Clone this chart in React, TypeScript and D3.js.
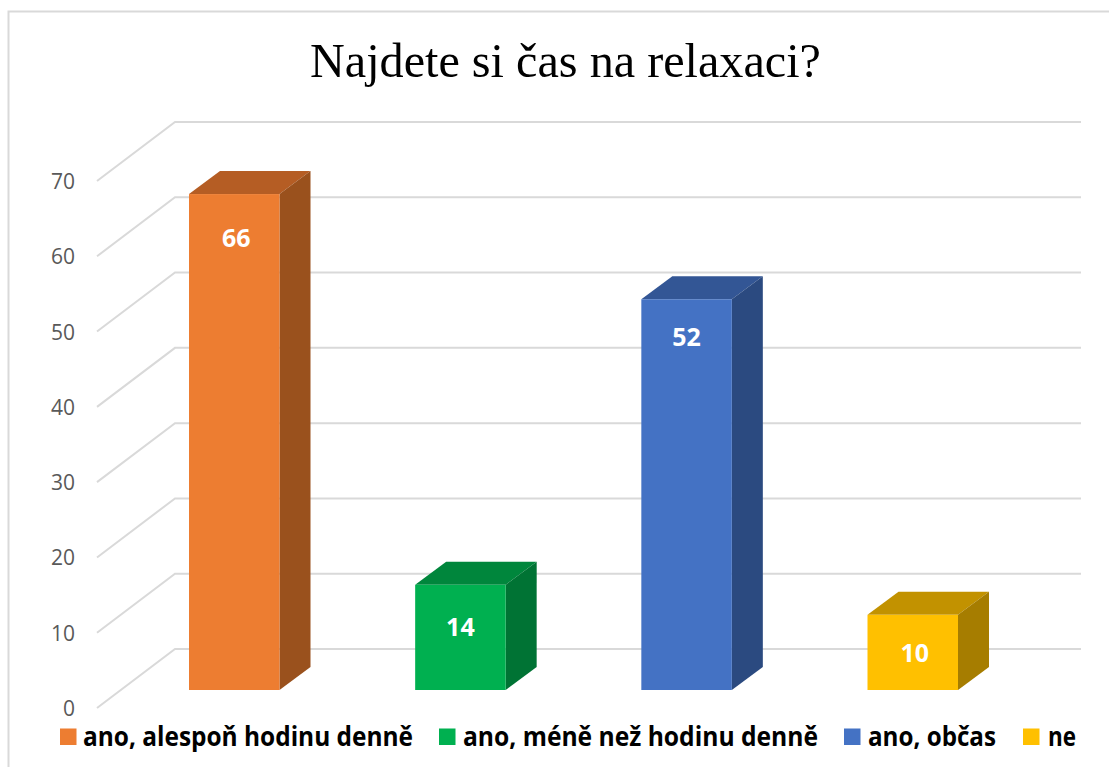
import React from "react";
import * as d3 from "d3";

const title = "Najdete si čas na relaxaci?";
const categories = ["ano, alespoň hodinu denně", "ano, méně než hodinu denně", "ano, občas", "ne"];
const values = [66, 14, 52, 10];
const frontColors = ["#ed7d31", "#00b050", "#4472c4", "#ffc000"];
const topColors = ["#b55d24", "#00863c", "#335695", "#c29200"];
const sideColors = ["#9a511d", "#007334", "#2b4a80", "#a67d00"];
const yTicks = [0, 10, 20, 30, 40, 50, 60, 70];
const legendSwatchX = [60, 439, 844, 1023];
const legendTextX = [83, 463, 868, 1048];
const legendWidths = [330, 355, 128, 28];
const labelOffsetX = [2, 0, 0, 2];
const labelOffsetY = [44, 42, 38, 38];

const W = 1109, H = 767;
const barWidth = 90.5, depthX = 31, depthY = 23;
const yBar = d3.scaleLinear().domain([0, 70]).range([690, 164]);
const yWall = d3.scaleLinear().domain([0, 70]).range([649, 122]);
const yAxis = d3.scaleLinear().domain([0, 70]).range([708, 181]);
const xBand = d3.scalePoint<string>().domain(categories).range([189, 867.5]);
const path = d3.line();

export default function App() {
  return (
    <svg width={W} height={H} style={{ position: "absolute", left: 0, top: 0, background: "#fff" }}>
      <path d="M8.5 767V11.5H1109" fill="none" stroke="#d9d9d9" strokeWidth={2} />
      <text x={565.5} y={77} textAnchor="middle" fontFamily="'Liberation Serif'" fontSize={48.2} fill="#000">{title}</text>
      {yTicks.map((t) => (
        <g key={t}>
          <path d={path([[97, yAxis(t)], [175, yWall(t)], [1081, yWall(t)]]) || ""} fill="none" stroke="#d9d9d9" strokeWidth={2} />
          <text x={75} y={yAxis(t) + 8} textAnchor="end" fontFamily="'Open Sans'" fontSize={21} fill="#595959">{t}</text>
        </g>
      ))}
      {categories.map((c, i) => {
        const x0 = xBand(c) as number;
        const x1 = x0 + barWidth;
        const top = yBar(values[i]);
        const bot = yBar(0);
        return (
          <g key={c}>
            <path d={(path([[x0, top], [x0 + depthX, top - depthY], [x1 + depthX, top - depthY], [x1, top]]) || "") + "Z"} fill={topColors[i]} />
            <path d={(path([[x1, top], [x1 + depthX, top - depthY], [x1 + depthX, bot - depthY], [x1, bot]]) || "") + "Z"} fill={sideColors[i]} />
            <rect x={x0} y={top} width={barWidth} height={bot - top} fill={frontColors[i]} />
            <text x={x0 + barWidth / 2 + labelOffsetX[i]} y={top + labelOffsetY[i] + 9} textAnchor="middle" fontFamily="'Open Sans'" fontWeight={700} fontSize={25} fill="#fff">{values[i]}</text>
          </g>
        );
      })}
      {categories.map((c, i) => (
        <g key={c + "-legend"}>
          <rect x={legendSwatchX[i]} y={728.5} width={16.5} height={16.5} fill={frontColors[i]} />
          <text x={legendTextX[i]} y={746} textLength={legendWidths[i]} lengthAdjust="spacingAndGlyphs" fontFamily="'Open Sans'" fontWeight={700} fontSize={26} fill="#000">{c}</text>
        </g>
      ))}
    </svg>
  );
}
